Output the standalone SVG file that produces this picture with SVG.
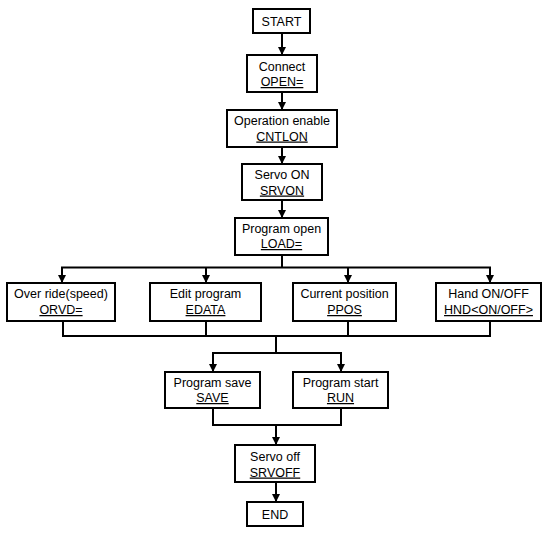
<svg xmlns="http://www.w3.org/2000/svg" width="550" height="537" viewBox="0 0 550 537">
<style>
.box{fill:#fff;stroke:#000;stroke-width:2}
.ln{fill:none;stroke:#000;stroke-width:2}
.ar{fill:none;stroke:#000;stroke-width:2;marker-end:url(#ah)}
text{font-family:"Liberation Sans",Arial,sans-serif;font-size:12.5px;fill:#000;text-anchor:middle}
.u{text-decoration:underline}
</style>
<defs>
<marker id="ah" viewBox="0 0 8 8" refX="8" refY="4" markerWidth="4" markerHeight="4" orient="auto" markerUnits="strokeWidth">
<path d="M0,0 L8,4 L0,8 z" fill="#000"/>
</marker>
</defs>
<rect width="550" height="537" fill="#fff"/>
<g id="connectors">
<line class="ar" x1="282" y1="33" x2="282" y2="55"/>
<line class="ar" x1="282" y1="92" x2="282" y2="110"/>
<line class="ar" x1="282" y1="147" x2="282" y2="164"/>
<line class="ar" x1="282" y1="200" x2="282" y2="218"/>
<line class="ln" x1="282" y1="255" x2="282" y2="267.5"/>
<line class="ln" x1="61" y1="267.5" x2="491" y2="267.5"/>
<line class="ar" x1="62" y1="267.5" x2="62" y2="283"/>
<line class="ar" x1="206" y1="267.5" x2="206" y2="283"/>
<line class="ar" x1="348" y1="267.5" x2="348" y2="283"/>
<line class="ar" x1="490" y1="267.5" x2="490" y2="283"/>
<polyline class="ln" points="63,321 63,336 490,336 490,321"/>
<line class="ln" x1="206" y1="321" x2="206" y2="336"/>
<line class="ln" x1="348" y1="321" x2="348" y2="336"/>
<line class="ln" x1="276" y1="336" x2="276" y2="353"/>
<line class="ln" x1="212" y1="353" x2="342" y2="353"/>
<line class="ar" x1="213" y1="353" x2="213" y2="372"/>
<line class="ar" x1="341" y1="353" x2="341" y2="372"/>
<polyline class="ln" points="213,408 213,425 341,425 341,408"/>
<line class="ar" x1="276" y1="425" x2="276" y2="445"/>
<line class="ar" x1="276" y1="482" x2="276" y2="502"/>
</g>
<g id="start"><rect class="box" x="253" y="9" width="57" height="24"/><text x="281.5" y="26">START</text></g>
<g id="connect"><rect class="box" x="247" y="55" width="70" height="37"/><text x="282" y="70.5">Connect</text><text class="u" x="282" y="86">OPEN=</text></g>
<g id="operation"><rect class="box" x="227" y="110" width="110" height="37"/><text x="282" y="125">Operation enable</text><text class="u" x="282" y="140.5">CNTLON</text></g>
<g id="servoon"><rect class="box" x="242" y="164" width="80" height="36"/><text x="282" y="179">Servo ON</text><text class="u" x="282" y="194.5">SRVON</text></g>
<g id="programopen"><rect class="box" x="235" y="218" width="93" height="37"/><text x="281.5" y="233">Program open</text><text class="u" x="281.5" y="248">LOAD=</text></g>
<g id="override"><rect class="box" x="7" y="283" width="108" height="38"/><text x="61" y="298">Over ride(speed)</text><text class="u" x="61" y="314">ORVD=</text></g>
<g id="edit"><rect class="box" x="150" y="283" width="111" height="38"/><text x="205.5" y="298">Edit program</text><text class="u" x="205.5" y="314">EDATA</text></g>
<g id="current"><rect class="box" x="293" y="283" width="103" height="38"/><text x="344.5" y="298">Current position</text><text class="u" x="344.5" y="314">PPOS</text></g>
<g id="hand"><rect class="box" x="436" y="283" width="105" height="38"/><text x="488.5" y="298">Hand ON/OFF</text><text class="u" x="488.5" y="314">HND&lt;ON/OFF&gt;</text></g>
<g id="save"><rect class="box" x="165" y="372" width="95" height="36"/><text x="212.5" y="386.5">Program save</text><text class="u" x="212.5" y="402">SAVE</text></g>
<g id="run"><rect class="box" x="293" y="372" width="95" height="36"/><text x="340.5" y="386.5">Program start</text><text class="u" x="340.5" y="402">RUN</text></g>
<g id="servooff"><rect class="box" x="235" y="445" width="80" height="37"/><text x="275" y="460.5">Servo off</text><text class="u" x="275" y="476.5">SRVOFF</text></g>
<g id="end"><rect class="box" x="247" y="502" width="56" height="24"/><text x="275" y="518.5">END</text></g>
</svg>
